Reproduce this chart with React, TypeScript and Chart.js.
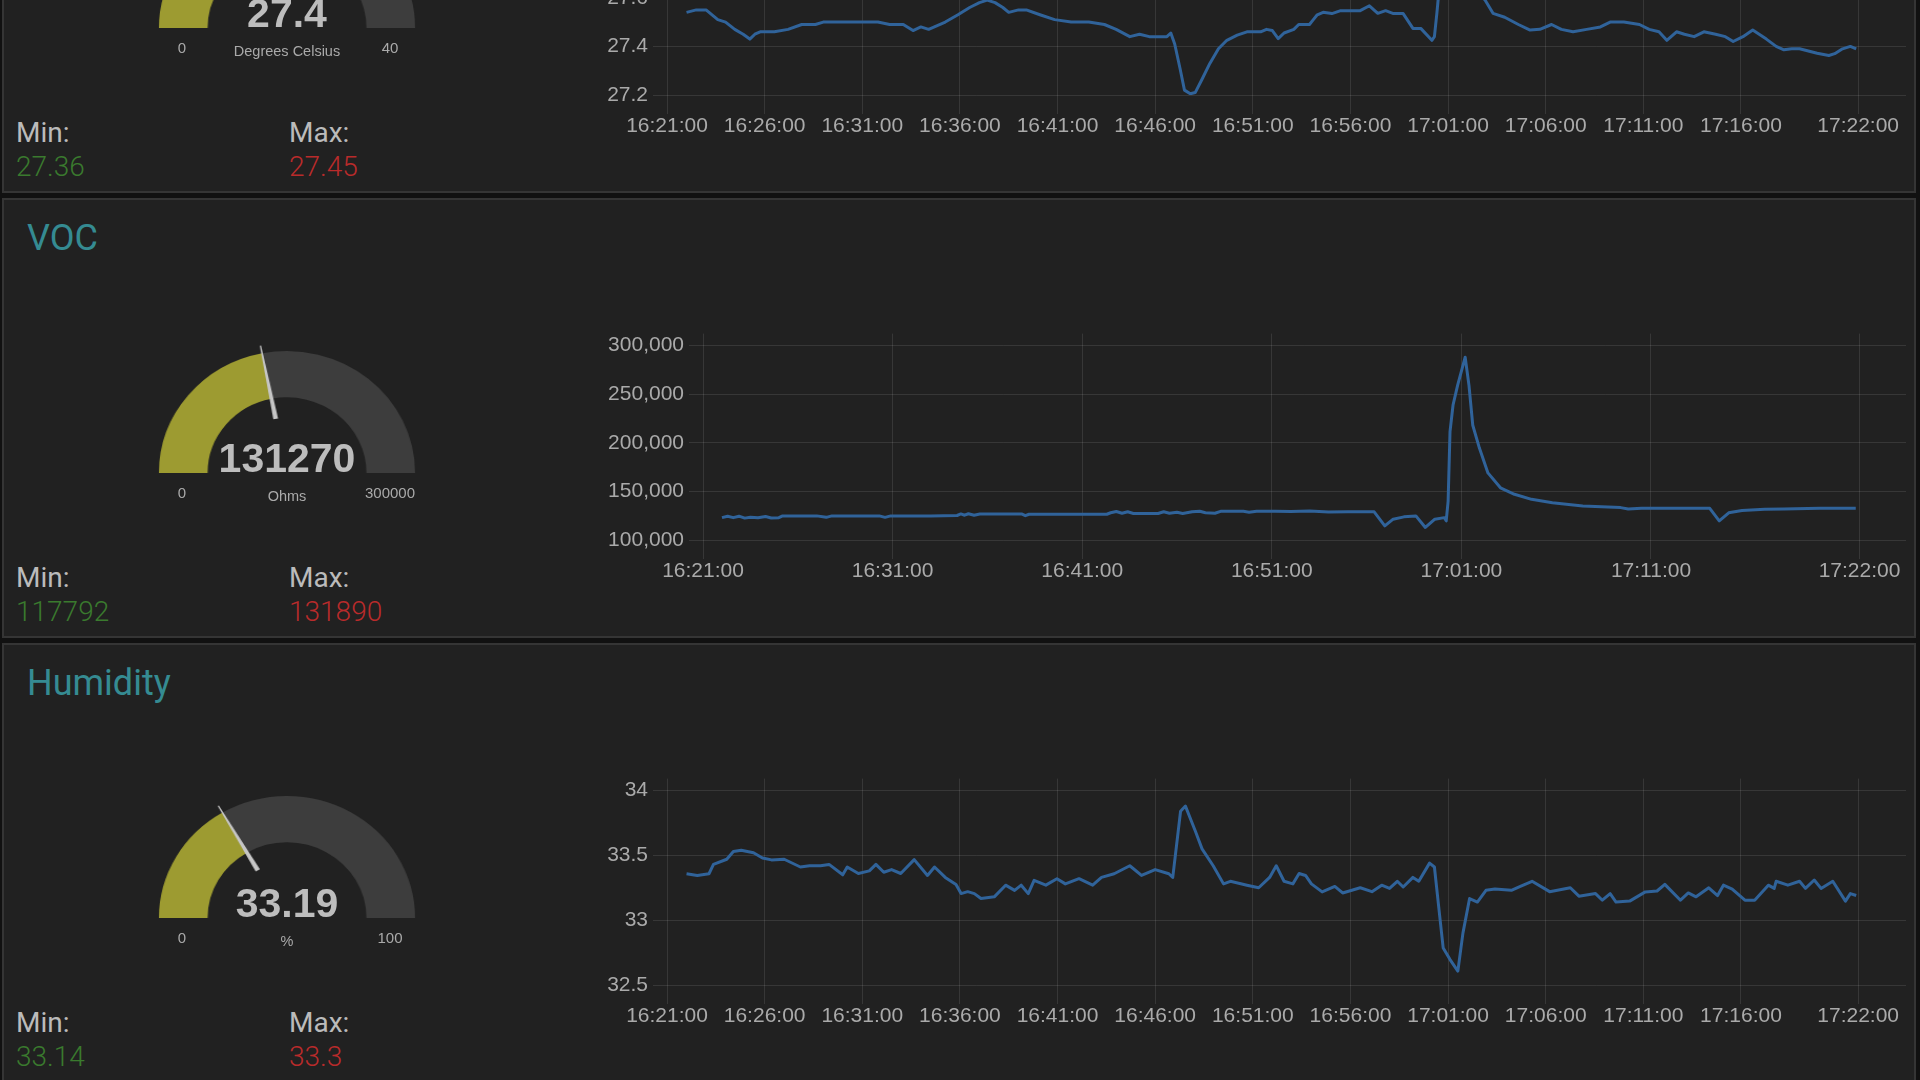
import React, { useEffect, useRef } from "react";
import { Chart, registerables } from "chart.js";

Chart.register(...registerables);

// ---------------- DATA ----------------
const BASE_TIME = "16:21:00";

// Temperature (minutes after BASE_TIME, degrees C)
const tempTimeMin = [
  1.0, 1.5, 2.0, 2.6, 3.0, 3.47, 3.9, 4.24, 4.5, 4.77, 5.5, 6.2, 6.9, 7.6, 8.0, 8.65, 9.5, 10.2, 10.8, 11.4,
  12.1, 12.6, 13.0, 13.4, 14.25, 14.9, 15.5, 16.0, 16.4, 16.8, 17.2, 17.5, 18.0, 18.4, 19.1, 19.85, 20.7, 21.6,
  22.4, 23.0, 23.7, 24.2, 24.7, 25.2, 25.6, 25.8, 26.0, 26.27, 26.5, 26.8, 27.05, 27.4, 27.8, 28.24, 28.67,
  29.2, 29.7, 30.4, 30.7, 31.0, 31.3, 31.6, 32.1, 32.35, 32.9, 33.1, 33.3, 33.6, 34.05, 34.5, 35.5, 35.97,
  36.4, 36.8, 37.2, 37.7, 38.2, 38.6, 39.17, 39.3, 39.43, 39.5, 39.7, 40.1, 40.4, 40.8, 41.3, 41.9, 42.3,
  42.9, 43.6, 44.2, 44.7, 45.3, 45.8, 46.4, 47.1, 47.8, 48.3, 49.0, 49.8, 50.3, 50.8, 51.2, 51.7, 52.1, 52.6,
  53.1, 53.7, 54.2, 54.6, 55.1, 55.6, 56.3, 56.8, 57.2, 57.6, 58.0, 58.5, 58.9, 59.5, 59.8, 60.2, 60.6, 60.9,
];
const tempValues = [
  27.54, 27.55, 27.55, 27.51, 27.5, 27.47, 27.45, 27.43, 27.45, 27.46, 27.46, 27.47, 27.49, 27.49, 27.5, 27.5,
  27.5, 27.5, 27.5, 27.49, 27.49, 27.465, 27.48, 27.47, 27.5, 27.53, 27.56, 27.58, 27.59, 27.58, 27.56, 27.54,
  27.55, 27.55, 27.53, 27.51, 27.5, 27.5, 27.49, 27.47, 27.44, 27.45, 27.44, 27.44, 27.44, 27.455, 27.41,
  27.31, 27.22, 27.205, 27.21, 27.265, 27.33, 27.39, 27.425, 27.446, 27.46, 27.46, 27.47, 27.465, 27.432,
  27.455, 27.47, 27.49, 27.49, 27.51, 27.53, 27.54, 27.535, 27.547, 27.547, 27.567, 27.536, 27.547, 27.535,
  27.535, 27.474, 27.474, 27.425, 27.44, 27.54, 27.6, 27.72, 27.82, 27.8, 27.72, 27.65, 27.59, 27.536, 27.52,
  27.49, 27.467, 27.47, 27.49, 27.47, 27.46, 27.47, 27.48, 27.5, 27.5, 27.49, 27.47, 27.46, 27.425, 27.46,
  27.45, 27.44, 27.46, 27.45, 27.44, 27.42, 27.44, 27.467, 27.43, 27.4, 27.386, 27.39, 27.39, 27.38, 27.372,
  27.3625, 27.37, 27.39, 27.4, 27.39,
];

// VOC (minutes after BASE_TIME, ohms)
const vocTimeMin = [
  1.0, 1.3, 1.6, 1.9, 2.2, 2.5, 2.9, 3.3, 3.6, 4.0, 4.2, 5.0, 6.0, 6.5, 6.8, 8.0, 9.3, 9.6, 9.9, 12.0, 13.4,
  13.6, 13.8, 14.0, 14.3, 14.6, 16.0, 16.8, 17.0, 17.2, 19.0, 21.3, 21.5, 21.8, 22.1, 22.4, 22.7, 24.0, 24.3,
  24.6, 25.0, 25.3, 25.8, 26.2, 26.5, 27.0, 27.3, 28.5, 28.8, 29.2, 30.2, 31.0, 32.0, 33.0, 34.0, 35.4, 35.96,
  36.4, 36.97, 37.6, 38.1, 38.6, 39.1, 39.2, 39.3, 39.4, 39.56, 39.8, 40.2, 40.4, 40.6, 40.95, 41.4, 42.06,
  42.8, 43.7, 44.8, 46.4, 48.4, 48.8, 49.5, 53.1, 53.6, 54.1, 54.8, 56.0, 57.0, 58.9, 60.8,
];
const vocValues = [
  123000, 124500, 123000, 124500, 122500, 123500, 122800, 124200, 122700, 123000, 124800, 124800, 124800,
  123300, 124800, 124800, 124800, 123300, 124800, 124800, 125200, 126800, 125500, 127000, 125500, 126800,
  126800, 126800, 125000, 126500, 126500, 126500, 128000, 129300, 127500, 129000, 127300, 127300, 129000,
  127500, 128500, 127300, 129000, 129500, 128000, 127500, 129500, 129500, 128500, 129500, 129600, 129200,
  129800, 128800, 129000, 129000, 114600, 121400, 123800, 124800, 112900, 121400, 123000, 119700, 140000,
  211500, 238800, 259000, 288000, 259000, 218000, 194500, 169000, 153700, 147000, 141800, 138400, 135000,
  133300, 131800, 132600, 132600, 119700, 128000, 130400, 131500, 132000, 132600, 132600,
];

// Humidity (minutes after BASE_TIME, %)
const humTimeMin = [
  1.0, 1.55, 2.15, 2.38, 3.06, 3.4, 3.8, 4.43, 4.89, 5.35, 6.0, 6.83, 7.3, 7.86, 8.3, 9.0, 9.23, 9.8, 10.36,
  10.7, 11.1, 11.5, 11.97, 12.66, 13.34, 13.7, 14.25, 14.8, 15.06, 15.4, 15.74, 16.08, 16.76, 17.34, 17.8,
  18.14, 18.5, 18.8, 19.4, 19.97, 20.4, 21.1, 21.8, 22.25, 22.9, 23.7, 24.3, 25.0, 25.7, 25.9, 26.3, 26.55,
  27.05, 27.4, 27.97, 28.5, 28.85, 29.7, 30.3, 30.86, 31.2, 31.6, 32.05, 32.37, 32.7, 33.0, 33.55, 34.2, 34.6,
  35.5, 36.1, 36.6, 37.0, 37.4, 37.7, 38.2, 38.5, 39.05, 39.3, 39.5, 39.75, 40.1, 40.5, 40.76, 41.1, 41.5,
  41.94, 42.4, 43.24, 43.7, 44.3, 45.2, 46.26, 46.7, 47.55, 47.9, 48.3, 48.6, 49.3, 50.1, 50.7, 51.1, 51.9,
  52.3, 52.7, 53.35, 53.8, 54.1, 54.55, 55.2, 55.7, 56.4, 56.7, 56.8, 57.4, 58.0, 58.3, 58.75, 59.1, 59.7,
  60.35, 60.6, 60.9,
];
const humValues = [
  33.358, 33.345, 33.358, 33.43, 33.47, 33.53, 33.54, 33.52, 33.48, 33.465, 33.47, 33.41, 33.42, 33.42, 33.43,
  33.35, 33.41, 33.36, 33.38, 33.43, 33.37, 33.39, 33.36, 33.467, 33.345, 33.41, 33.33, 33.275, 33.205, 33.22,
  33.205, 33.167, 33.18, 33.27, 33.23, 33.27, 33.205, 33.307, 33.27, 33.32, 33.28, 33.32, 33.27, 33.33, 33.358,
  33.42, 33.345, 33.39, 33.358, 33.33, 33.84, 33.88, 33.69, 33.55, 33.42, 33.28, 33.3, 33.27, 33.25, 33.33,
  33.42, 33.3, 33.28, 33.36, 33.345, 33.28, 33.218, 33.26, 33.21, 33.25, 33.22, 33.27, 33.245, 33.3, 33.256,
  33.33, 33.3, 33.44, 33.41, 33.13, 32.785, 32.696, 32.607, 32.9, 33.167, 33.14, 33.23, 33.24, 33.23, 33.26,
  33.3, 33.22, 33.25, 33.185, 33.205, 33.154, 33.205, 33.14, 33.147, 33.218, 33.225, 33.276, 33.154, 33.21,
  33.18, 33.25, 33.19, 33.27, 33.24, 33.154, 33.154, 33.27, 33.245, 33.3, 33.27, 33.3, 33.245, 33.31, 33.245,
  33.3, 33.147, 33.205, 33.19,
];

// Axis tick labels
const timeTicks5 = [
  "16:21:00", "16:26:00", "16:31:00", "16:36:00", "16:41:00", "16:46:00", "16:51:00", "16:56:00",
  "17:01:00", "17:06:00", "17:11:00", "17:16:00", "17:22:00",
];
const timeTicks10 = ["16:21:00", "16:31:00", "16:41:00", "16:51:00", "17:01:00", "17:11:00", "17:22:00"];
const tempYTicks = [27.2, 27.4, 27.6, 27.8, 28.0];
const vocYTicks = [100000, 150000, 200000, 250000, 300000];
const humYTicks = [32.5, 33, 33.5, 34];

// Gauges and min/max readouts
const panelTitles = ["Temperature", "VOC", "Humidity"];
const gaugeValues = [27.4, 131270, 33.19];
const gaugeMins = [0, 0, 0];
const gaugeMaxs = [40, 300000, 100];
const gaugeUnits = ["Degrees Celsius", "Ohms", "%"];
const minReadings = ["27.36", "117792", "33.14"];
const maxReadings = ["27.45", "131890", "33.3"];

// ---------------- STYLE ----------------
const PAGE_BG = "#111111";
const PANEL_BG = "#212121";
const PANEL_BORDER = "#353535";
const TITLE_COLOR = "#358b92";
const LINE_COLOR = "#30639a";
const GRID_COLOR = "rgba(255,255,255,0.1)";
const TICK_COLOR = "#aaaaaa";
const GAUGE_FILL = "#9d9b31";
const GAUGE_TRACK = "#3d3d3d";
const NEEDLE_COLOR = "#c6c6c6";
const SANS = "'Liberation Sans', Arial, Helvetica, sans-serif";
const ROBOTO = "Roboto, 'Liberation Sans', Arial, sans-serif";

Chart.defaults.font.family = SANS;

function toSec(t: string): number {
  const [h, m, s] = t.split(":").map(Number);
  return h * 3600 + m * 60 + s;
}
function pad2(n: number) {
  return n < 10 ? "0" + n : String(n);
}
function fmtSec(v: number): string {
  const s = Math.round(v);
  const h = Math.floor(s / 3600);
  const m = Math.floor((s % 3600) / 60);
  return `${h}:${pad2(m)}:${pad2(s % 60)}`;
}

type LineProps = {
  times: number[];
  values: number[];
  xTicks: string[];
  yTicks: number[];
  yMin: number;
  yMax: number;
  yAxisWidth: number;
  yFormat: (v: number) => string;
};

const CHART_W = 1354;
const CHART_H = 280;

function LineChart(p: LineProps) {
  const ref = useRef<HTMLCanvasElement>(null);
  useEffect(() => {
    const base = toSec(BASE_TIME);
    const data = p.times.map((t, i) => ({ x: base + t * 60, y: p.values[i] }));
    const xTickVals = p.xTicks.map(toSec);
    const chart = new Chart(ref.current as HTMLCanvasElement, {
      type: "line",
      data: {
        datasets: [
          {
            data,
            borderColor: LINE_COLOR,
            borderWidth: 3,
            pointRadius: 0,
            tension: 0,
            fill: false,
            borderJoinStyle: "round",
          },
        ],
      },
      options: {
        responsive: false,
        animation: false,
        events: [],
        layout: { padding: { top: 16, right: 8, bottom: 0, left: 0 } },
        plugins: { legend: { display: false }, tooltip: { enabled: false } },
        scales: {
          x: {
            type: "linear",
            min: base,
            max: base + 63.45 * 60,
            afterBuildTicks: (s: any) => {
              s.ticks = xTickVals.map((v) => ({ value: v }));
            },
            afterFit: (s: any) => {
              s.height = 56;
            },
            grid: { color: GRID_COLOR, tickLength: 19 },
            border: { display: false },
            ticks: {
              color: TICK_COLOR,
              font: { size: 21 },
              padding: 0,
              maxRotation: 0,
              minRotation: 0,
              autoSkip: false,
              callback: (v: any) => fmtSec(Number(v)),
            },
          },
          y: {
            type: "linear",
            min: p.yMin,
            max: p.yMax,
            afterBuildTicks: (s: any) => {
              s.ticks = p.yTicks.map((v) => ({ value: v }));
            },
            afterFit: (s: any) => {
              s.width = p.yAxisWidth;
            },
            grid: { color: GRID_COLOR, tickLength: 14 },
            border: { display: false },
            ticks: {
              color: TICK_COLOR,
              font: { size: 21 },
              padding: 5,
              callback: (v: any) => p.yFormat(Number(v)),
            },
          },
        },
      },
    } as any);
    return () => chart.destroy();
  }, []);
  return (
    <canvas
      ref={ref}
      width={CHART_W}
      height={CHART_H}
      style={{ position: "absolute", left: 558, top: 118, width: CHART_W, height: CHART_H }}
    />
  );
}

const needlePlugin = {
  id: "gaugeNeedle",
  afterDatasetsDraw(chart: any) {
    const arc: any = chart.getDatasetMeta(0).data[0];
    if (!arc) return;
    const { x, y, innerRadius, outerRadius, endAngle } = arc.getProps(
      ["x", "y", "innerRadius", "outerRadius", "endAngle"],
      true
    );
    const ctx = chart.ctx;
    const r0 = innerRadius * 0.73;
    const r1 = outerRadius * 1.065;
    const c = Math.cos(endAngle);
    const s = Math.sin(endAngle);
    const nx = -s;
    const ny = c;
    ctx.save();
    ctx.fillStyle = NEEDLE_COLOR;
    ctx.beginPath();
    ctx.moveTo(x + c * r0 + nx * 2.3, y + s * r0 + ny * 2.3);
    ctx.lineTo(x + c * r1 + nx * 0.6, y + s * r1 + ny * 0.6);
    ctx.lineTo(x + c * r1 - nx * 0.6, y + s * r1 - ny * 0.6);
    ctx.lineTo(x + c * r0 - nx * 2.3, y + s * r0 - ny * 2.3);
    ctx.closePath();
    ctx.fill();
    ctx.restore();
  },
};

const G_R = 122;
const G_P = 14;

function Gauge({ value, min, max }: { value: number; min: number; max: number }) {
  const ref = useRef<HTMLCanvasElement>(null);
  useEffect(() => {
    const chart = new Chart(ref.current as HTMLCanvasElement, {
      type: "doughnut",
      data: {
        labels: ["value", "rest"],
        datasets: [
          {
            data: [value - min, max - value],
            backgroundColor: [GAUGE_FILL, GAUGE_TRACK],
            borderWidth: 0,
          },
        ],
      },
      options: {
        responsive: false,
        animation: false,
        events: [],
        rotation: -90,
        circumference: 180,
        cutout: "62%",
        layout: { padding: { top: G_P, left: G_P, right: G_P, bottom: 0 } },
        plugins: { legend: { display: false }, tooltip: { enabled: false } },
      },
      plugins: [needlePlugin],
    } as any);
    return () => chart.destroy();
  }, []);
  const w = 2 * G_R + 2 * G_P;
  const h = G_R + G_P;
  return (
    <canvas
      ref={ref}
      width={w}
      height={h}
      style={{
        position: "absolute",
        left: 285 - w / 2,
        top: 275 - h,
        width: w,
        height: h,
        transform: "scaleX(1.05)",
        transformOrigin: "50% 100%",
      }}
    />
  );
}

type PanelProps = {
  idx: number;
  top: number;
  chart: LineProps;
};

function Panel({ idx, top, chart }: PanelProps) {
  const labelBase: React.CSSProperties = {
    position: "absolute",
    fontFamily: SANS,
    color: TICK_COLOR,
    fontSize: 15,
    lineHeight: "15px",
    textAlign: "center",
    whiteSpace: "nowrap",
  };
  return (
    <div
      style={{
        position: "absolute",
        left: 2,
        top,
        width: 1914,
        height: 440,
        background: PANEL_BG,
        boxShadow: `inset 0 0 0 2px ${PANEL_BORDER}`,
      }}
    >
      <div
        style={{
          position: "absolute",
          left: 25,
          top: 22,
          fontFamily: ROBOTO,
          fontSize: 36,
          lineHeight: "36px",
          color: TITLE_COLOR,
          whiteSpace: "nowrap",
        }}
      >
        {panelTitles[idx]}
      </div>

      <Gauge value={gaugeValues[idx]} min={gaugeMins[idx]} max={gaugeMaxs[idx]} />
      <div
        style={{
          position: "absolute",
          left: 160,
          width: 250,
          top: 240,
          textAlign: "center",
          fontFamily: SANS,
          fontWeight: 700,
          fontSize: 41,
          lineHeight: "41px",
          color: "#bdbdbd",
        }}
      >
        {String(gaugeValues[idx])}
      </div>
      <div style={{ ...labelBase, left: 140, width: 80, top: 287 }}>{String(gaugeMins[idx])}</div>
      <div style={{ ...labelBase, left: 348, width: 80, top: 287 }}>{String(gaugeMaxs[idx])}</div>
      <div style={{ ...labelBase, left: 185, width: 200, top: 291, fontSize: 14.5 }}>{gaugeUnits[idx]}</div>

      <div
        style={{
          position: "absolute",
          left: 14,
          top: 366,
          fontFamily: ROBOTO,
          fontSize: 28,
          lineHeight: "28px",
          color: "#bbbbbb",
        }}
      >
        Min:
      </div>
      <div
        style={{
          position: "absolute",
          left: 14,
          top: 400,
          fontFamily: ROBOTO,
          fontWeight: 300,
          fontSize: 28,
          lineHeight: "28px",
          color: "#3a7a2e",
        }}
      >
        {minReadings[idx]}
      </div>
      <div
        style={{
          position: "absolute",
          left: 287,
          top: 366,
          fontFamily: ROBOTO,
          fontSize: 28,
          lineHeight: "28px",
          color: "#bbbbbb",
        }}
      >
        Max:
      </div>
      <div
        style={{
          position: "absolute",
          left: 287,
          top: 400,
          fontFamily: ROBOTO,
          fontWeight: 300,
          fontSize: 28,
          lineHeight: "28px",
          color: "#b92b2b",
        }}
      >
        {maxReadings[idx]}
      </div>

      <LineChart {...chart} />
    </div>
  );
}

const oneDec = (v: number) => String(Math.round(v * 10) / 10);

export default function App() {
  return (
    <div
      style={{
        position: "fixed",
        left: 0,
        top: 0,
        width: 1920,
        height: 1080,
        overflow: "hidden",
        background: PAGE_BG,
      }}
    >
      <Panel
        idx={0}
        top={-247}
        chart={{
          times: tempTimeMin,
          values: tempValues,
          xTicks: timeTicks5,
          yTicks: tempYTicks,
          yMin: 27.2,
          yMax: 28.049,
          yAxisWidth: 107,
          yFormat: oneDec,
        }}
      />
      <Panel
        idx={1}
        top={198}
        chart={{
          times: vocTimeMin,
          values: vocValues,
          xTicks: timeTicks10,
          yTicks: vocYTicks,
          yMin: 100000,
          yMax: 312245,
          yAxisWidth: 143,
          yFormat: (v: number) => v.toLocaleString("en-US"),
        }}
      />
      <Panel
        idx={2}
        top={643}
        chart={{
          times: humTimeMin,
          values: humValues,
          xTicks: timeTicks5,
          yTicks: humYTicks,
          yMin: 32.5,
          yMax: 34.092,
          yAxisWidth: 107,
          yFormat: oneDec,
        }}
      />
    </div>
  );
}
